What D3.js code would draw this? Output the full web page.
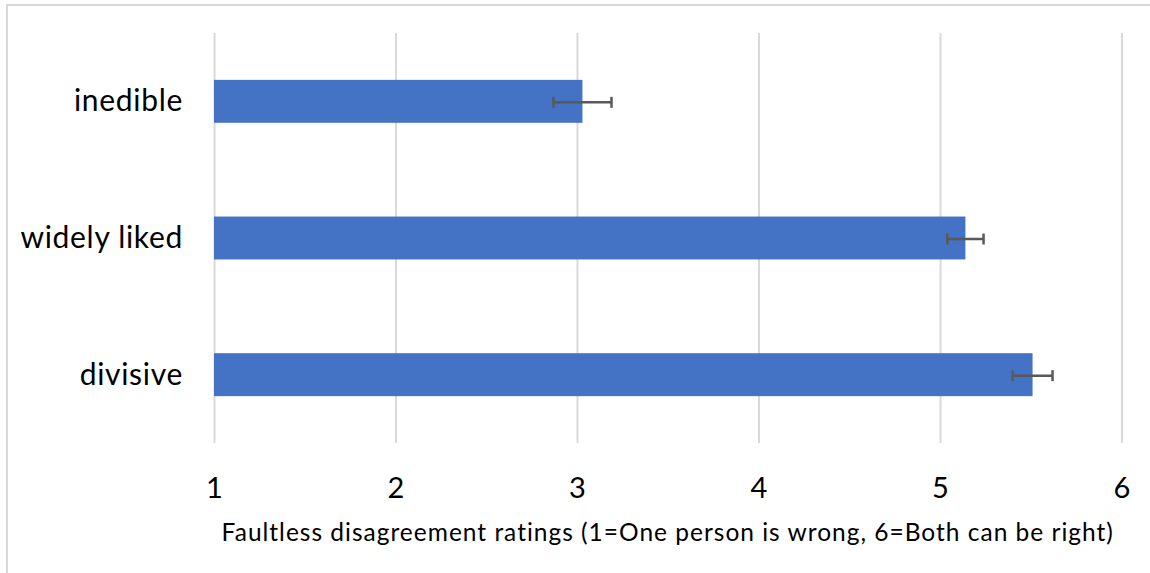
<!DOCTYPE html>
<html>
<head>
<meta charset="utf-8">
<script src="https://cdn.jsdelivr.net/npm/d3@7"></script>
<style>
  body { margin: 0; background: #fff; }
  text { font-family: Lato, "Open Sans", sans-serif; fill: #000; }
</style>
</head>
<body>
<div class="chart"></div>
<script>
const categories = ["inedible", "widely liked", "divisive"];
const means = [3.03, 5.14, 5.51];
const errLow = [2.87, 5.04, 5.40];
const errHigh = [3.19, 5.24, 5.62];
const tickValues = [1, 2, 3, 4, 5, 6];
const axisTitle =
  "Faultless disagreement ratings (1=One person is wrong, 6=Both can be right)";

const width = 1150;
const height = 573;
const plot = { left: 214, right: 1121.5, top: 33, bottom: 443 };

const svg = d3
  .select(".chart")
  .append("svg")
  .attr("width", width)
  .attr("height", height);

// outer chart border (only top/left visible in frame)
svg
  .append("rect")
  .attr("x", 7)
  .attr("y", 5)
  .attr("width", width + 20)
  .attr("height", height + 20)
  .attr("fill", "#fff")
  .attr("stroke", "#d9d9d9")
  .attr("stroke-width", 2);

const x = d3.scaleLinear().domain([1, 6]).range([plot.left, plot.right]);

const y = d3
  .scaleBand()
  .domain(categories)
  .range([plot.top, plot.bottom])
  .paddingInner(0.686)
  .paddingOuter(0.343);

// gridlines + tick labels
const xAxis = svg
  .append("g")
  .attr("transform", `translate(0,${plot.bottom})`)
  .call(
    d3
      .axisBottom(x)
      .tickValues(tickValues)
      .tickFormat(d3.format("d"))
      .tickSize(-(plot.bottom - plot.top))
      .tickPadding(0)
  );
xAxis.select(".domain").remove();
xAxis
  .selectAll(".tick line")
  .attr("stroke", "#d9d9d9")
  .attr("stroke-width", 2);
xAxis
  .selectAll(".tick text")
  .attr("y", 55)
  .attr("dy", null)
  .style("font-size", "29px")
  .style("font-family", "Lato, sans-serif")
  .attr("fill", "#000");

// bars
svg
  .append("g")
  .selectAll("rect")
  .data(categories)
  .join("rect")
  .attr("x", x(1))
  .attr("y", (d) => y(d))
  .attr("width", (d, i) => x(means[i]) - x(1))
  .attr("height", y.bandwidth())
  .attr("fill", "#4472c4");

// error bars
const capH = 11;
const err = svg
  .append("g")
  .attr("stroke", "#595959")
  .attr("stroke-width", 2.5)
  .selectAll("g")
  .data(categories)
  .join("g")
  .attr("transform", (d) => `translate(0,${y(d) + y.bandwidth() / 2 + 1})`);
err
  .append("line")
  .attr("x1", (d, i) => x(errLow[i]))
  .attr("x2", (d, i) => x(errHigh[i]));
err
  .append("line")
  .attr("x1", (d, i) => x(errLow[i]))
  .attr("x2", (d, i) => x(errLow[i]))
  .attr("y1", -capH / 2)
  .attr("y2", capH / 2);
err
  .append("line")
  .attr("x1", (d, i) => x(errHigh[i]))
  .attr("x2", (d, i) => x(errHigh[i]))
  .attr("y1", -capH / 2)
  .attr("y2", capH / 2);

// category labels
svg
  .append("g")
  .selectAll("text")
  .data(categories)
  .join("text")
  .attr("x", 183)
  .attr("y", (d) => y(d) + y.bandwidth() / 2 + 10)
  .attr("text-anchor", "end")
  .style("font-size", "30px")
  .style("letter-spacing", "0.7px")
  .text((d) => d);

// axis title
svg
  .append("text")
  .attr("x", (plot.left + plot.right) / 2)
  .attr("y", 541)
  .attr("text-anchor", "middle")
  .style("font-size", "24.5px")
  .style("letter-spacing", "1px")
  .text(axisTitle);
</script>
</body>
</html>
